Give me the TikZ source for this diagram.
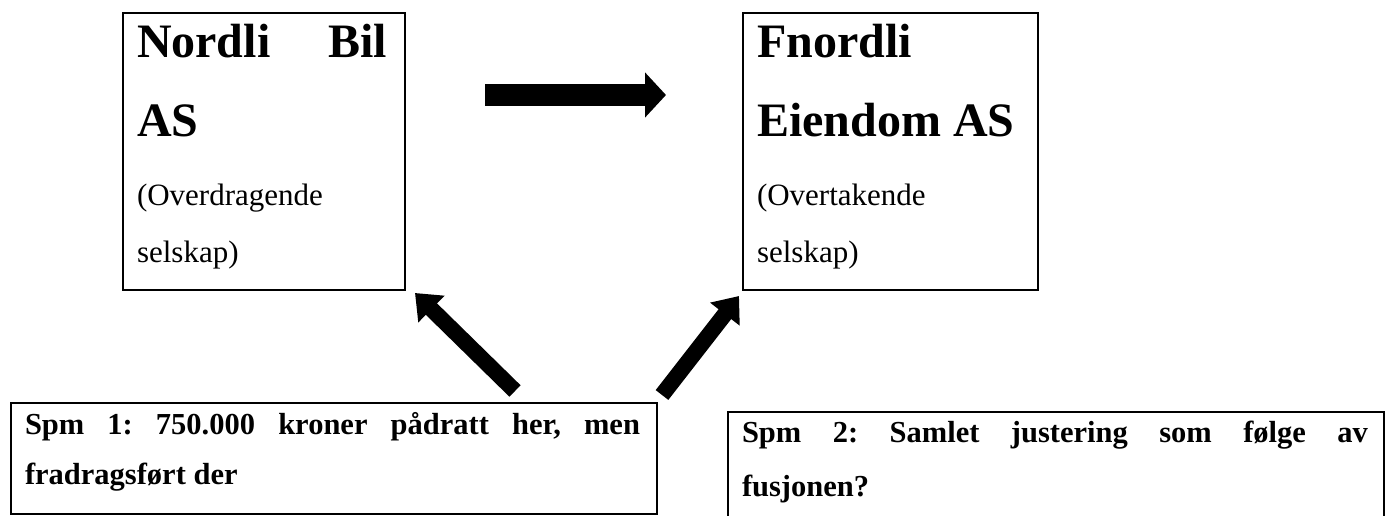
\documentclass[tikz,border=0pt]{standalone}
\usepackage{fontspec}
\setmainfont{Liberation Serif}
\usetikzlibrary{arrows.meta}

\tikzset{
  frame/.style={draw, line width=1.6pt, inner sep=0pt, anchor=north west},
  line/.style={anchor=base west, inner sep=0pt, outer sep=0pt},
  title/.style={line, font=\fontsize{48}{58}\selectfont\bfseries},
  sub/.style={line, font=\fontsize{31}{37}\selectfont},
  question/.style={line, font=\fontsize{30.5}{37}\selectfont\bfseries},
  bigarrow/.style={line width=22pt, -{Triangle[length=21pt,width=44pt]}},
  slantarrow/.style={line width=16pt, -{Triangle[length=23pt,width=36pt]}},
}

\begin{document}
\begin{tikzpicture}[x=1pt, y=-1pt]
  \useasboundingbox (0,0) rectangle (1392,516);

  % company boxes
  \node[frame, minimum width=282pt, minimum height=277pt] (bil) at (122,12) {};
  \node[frame, minimum width=295pt, minimum height=277pt] (eiendom) at (742,12) {};

  \node[title] (bilA) at (137,58) {\hbox to 250pt{Nordli\hfill Bil}};
  \node[title] (bilB) at (137,136) {AS};
  \node[sub] (bilC) at (137,205) {(Overdragende};
  \node[sub] (bilD) at (137,262) {selskap)};

  \node[title] (eiA) at (757,58) {Fnordli};
  \node[title] (eiB) at (757,136) {Eiendom AS};
  \node[sub] (eiC) at (757,205) {(Overtakende};
  \node[sub] (eiD) at (757,262) {selskap)};

  % question boxes
  \node[frame, minimum width=646pt, minimum height=111pt] (q1) at (10,402) {};
  \node[frame, minimum width=656pt, minimum height=120pt] (q2) at (727,411) {};

  \node[question] (q1A) at (25,434)
    {\hbox to 615pt{Spm\hfill 1:\hfill 750.000\hfill kroner\hfill pådratt\hfill her,\hfill men}};
  \node[question] (q1B) at (25,484) {fradragsført der};

  \node[question] (q2A) at (742,442)
    {\hbox to 626pt{Spm\hfill 2:\hfill Samlet\hfill justering\hfill som\hfill følge\hfill av}};
  \node[question] (q2B) at (742,496) {fusjonen?};

  % arrows
  \coordinate (hStart) at (485,95);
  \coordinate (hEnd) at (666,95);
  \coordinate (lStart) at (515,391);
  \coordinate (lEnd) at (415,293);
  \coordinate (rStart) at (662,395);
  \coordinate (rEnd) at (739,296);

  \draw[bigarrow] (hStart) -- (hEnd);
  \draw[slantarrow] (lStart) -- (lEnd);
  \draw[slantarrow] (rStart) -- (rEnd);
\end{tikzpicture}
\end{document}
